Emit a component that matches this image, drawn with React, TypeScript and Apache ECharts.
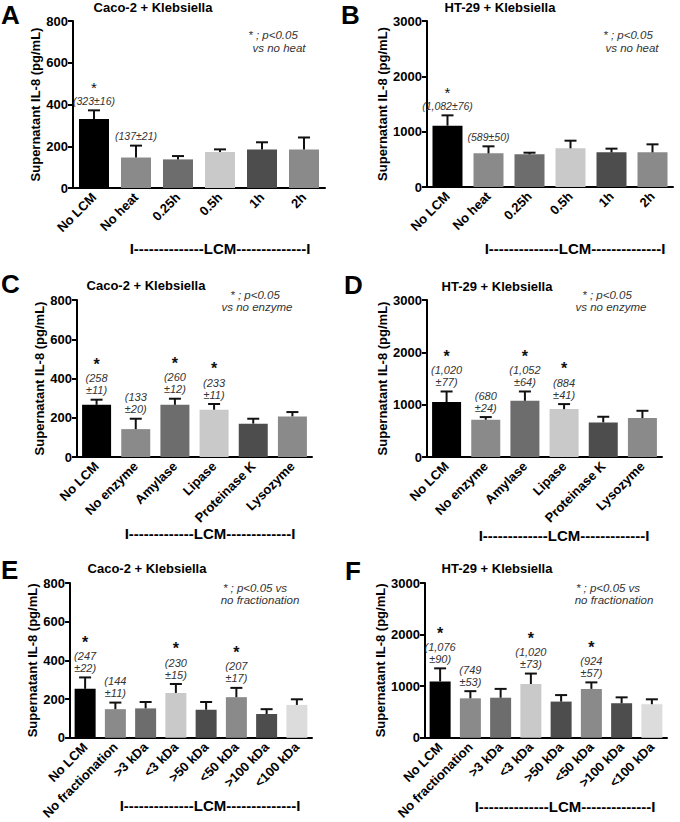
import React, { useEffect, useRef } from "react";
import * as echarts from "echarts";

const FONT = "'Liberation Sans', Arial, Helvetica, sans-serif";

// ---------- Data ----------
const catsHeat = ["No LCM", "No heat", "0.25h", "0.5h", "1h", "2h"];
const catsEnzyme = ["No LCM", "No enzyme", "Amylase", "Lipase", "Proteinase K", "Lysozyme"];
const catsFrac = ["No LCM", "No fractionation", ">3 kDa", "<3 kDa", ">50 kDa", "<50 kDa", ">100 kDa", "<100 kDa"];

const meanA = [330, 146, 137, 172, 185, 185];
const errA = [42, 57, 16, 13, 34, 57];
const starA = [1, 0, 0, 0, 0, 0];
const noteA = ["(323±16)", "(137±21)", "", "", "", ""];

const meanB = [1108, 608, 590, 699, 626, 626];
const errB = [187, 127, 30, 138, 67, 145];
const starB = [1, 0, 0, 0, 0, 0];
const noteB = ["(1,082±76)", "(589±50)", "", "", "", ""];

const meanC = [266, 142, 266, 241, 170, 207];
const errC = [26, 53, 31, 29, 25, 22];
const starC = [1, 0, 1, 1, 0, 0];
const noteC = ["(258\n±11)", "(133\n±20)", "(260\n±12)", "(233\n±11)", "", ""];

const meanD = [1049, 712, 1074, 915, 661, 744];
const errD = [203, 51, 178, 96, 108, 139];
const starD = [1, 0, 1, 1, 0, 0];
const noteD = ["(1,020\n±77)", "(680\n±24)", "(1,052\n±64)", "(884\n±41)", "", ""];

const meanE = [253, 148, 152, 232, 145, 210, 123, 170];
const errE = [59, 34, 33, 46, 40, 48, 25, 29];
const starE = [1, 0, 0, 1, 0, 1, 0, 0];
const noteE = ["(247\n±22)", "(144\n±11)", "", "(230\n±15)", "", "(207\n±17)", "", ""];

const meanF = [1093, 765, 777, 1043, 702, 948, 670, 651];
const errF = [253, 139, 171, 202, 126, 126, 114, 95];
const starF = [1, 0, 0, 1, 0, 1, 0, 0];
const noteF = ["(1,076\n±90)", "(749\n±53)", "", "(1,020\n±73)", "", "(924\n±57)", "", ""];

const colors6 = ["#000000", "#8a8a8a", "#6d6d6d", "#c9c9c9", "#4d4d4d", "#8a8a8a"];
const colors8 = ["#000000", "#8a8a8a", "#6d6d6d", "#c9c9c9", "#4d4d4d", "#8a8a8a", "#4d4d4d", "#dcdcdc"];

const titleCaco = "Caco-2 + Klebsiella";
const titleHT = "HT-29 + Klebsiella";
const yName = "Supernatant IL-8 (pg/mL)";
const lcmLong = "I" + "-".repeat(14) + "LCM" + "-".repeat(14) + "I";
const lcmShort = "I" + "-".repeat(13) + "LCM" + "-".repeat(13) + "I";

type Panel = {
  letter: string;
  title: string;
  cats: string[];
  mean: number[];
  err: number[];
  star: number[];
  note: string[];
  colors: string[];
  max: number;
  interval: number;
  grid: { left: number; top: number; width: number; height: number };
  titlePos: [number, number];
  letterPos: [number, number];
  sig1: [string, number, number];
  sig2: [string, number, number];
  lcm: [string, number, number];
  bigStar: boolean;
  noteSize: number;
  barWidth: number;
};

const panels: Panel[] = [
  {
    letter: "A", title: titleCaco, cats: catsHeat, mean: meanA, err: errA, star: starA, note: noteA,
    colors: colors6, max: 800, interval: 200,
    grid: { left: 73, top: 21, width: 252, height: 167 },
    titlePos: [153, 7], letterPos: [1, 15],
    sig1: ["* ; p<0.05", 273, 35], sig2: ["vs no heat", 279, 48],
    lcm: [lcmLong, 220, 248], bigStar: false, noteSize: 10.5, barWidth: 30,
  },
  {
    letter: "B", title: titleHT, cats: catsHeat, mean: meanB, err: errB, star: starB, note: noteB,
    colors: colors6, max: 3000, interval: 1000,
    grid: { left: 427, top: 21, width: 246, height: 166 },
    titlePos: [500, 7], letterPos: [341, 15],
    sig1: ["* ; p<0.05", 628, 35], sig2: ["vs no heat", 632, 48],
    lcm: [lcmLong, 575, 248], bigStar: false, noteSize: 10.5, barWidth: 30,
  },
  {
    letter: "C", title: titleCaco, cats: catsEnzyme, mean: meanC, err: errC, star: starC, note: noteC,
    colors: colors6, max: 800, interval: 200,
    grid: { left: 77, top: 300, width: 235, height: 157 },
    titlePos: [146, 285], letterPos: [1, 284],
    sig1: ["* ; p<0.05", 255, 295], sig2: ["vs no enzyme", 257, 307],
    lcm: [lcmShort, 210, 533], bigStar: true, noteSize: 11, barWidth: 29,
  },
  {
    letter: "D", title: titleHT, cats: catsEnzyme, mean: meanD, err: errD, star: starD, note: noteD,
    colors: colors6, max: 3000, interval: 1000,
    grid: { left: 427, top: 300, width: 235, height: 157 },
    titlePos: [497, 286], letterPos: [344, 285],
    sig1: ["* ; p<0.05", 607, 295], sig2: ["vs no enzyme", 611, 307],
    lcm: [lcmShort, 564, 535], bigStar: true, noteSize: 11, barWidth: 29,
  },
  {
    letter: "E", title: titleCaco, cats: catsFrac, mean: meanE, err: errE, star: starE, note: noteE,
    colors: colors8, max: 800, interval: 200,
    grid: { left: 70, top: 583, width: 242, height: 158 },
    titlePos: [147, 568], letterPos: [1, 570],
    sig1: ["* ; p<0.05 vs", 255, 588], sig2: ["no fractionation", 260, 600],
    lcm: [lcmLong, 210, 805], bigStar: true, noteSize: 11, barWidth: 21,
  },
  {
    letter: "F", title: titleHT, cats: catsFrac, mean: meanF, err: errF, star: starF, note: noteF,
    colors: colors8, max: 3000, interval: 1000,
    grid: { left: 425, top: 583, width: 242, height: 158 },
    titlePos: [497, 568], letterPos: [345, 571],
    sig1: ["* ; p<0.05 vs", 608, 588], sig2: ["no fractionation", 614, 600],
    lcm: [lcmLong, 565, 806], bigStar: true, noteSize: 11, barWidth: 21,
  },
];

function txt(text: string, x: number, y: number, font: string, fill = "#000", align = "center", lineHeight?: number) {
  const style: any = {
    text,
    font,
    fill,
    align,
    verticalAlign: "middle",
    textAlign: align,
    textVerticalAlign: "middle",
  };
  if (lineHeight) style.lineHeight = lineHeight;
  return { type: "text", x, y, silent: true, style };
}

function buildOption() {
  const grid: any[] = [];
  const xAxis: any[] = [];
  const yAxis: any[] = [];
  const series: any[] = [];
  const graphic: any[] = [];

  panels.forEach((p, i) => {
    grid.push({ ...p.grid, containLabel: false });
    xAxis.push({
      type: "category",
      gridIndex: i,
      data: p.cats,
      axisLine: { lineStyle: { color: "#000", width: 2 } },
      axisTick: { alignWithLabel: true, length: 5, lineStyle: { color: "#000", width: 2 } },
      axisLabel: {
        interval: 0,
        rotate: 45,
        margin: 7,
        color: "#000",
        fontFamily: FONT,
        fontWeight: "bold",
        fontSize: 13,
      },
      splitLine: { show: false },
    });
    yAxis.push({
      type: "value",
      gridIndex: i,
      min: 0,
      max: p.max,
      interval: p.interval,
      name: yName,
      nameLocation: "middle",
      nameGap: 29,
      nameTextStyle: { color: "#000", fontFamily: FONT, fontWeight: "bold", fontSize: 13 },
      axisLine: { show: true, lineStyle: { color: "#000", width: 2 } },
      axisTick: { show: true, length: 5, lineStyle: { color: "#000", width: 2 } },
      axisLabel: {
        color: "#000",
        fontFamily: FONT,
        fontWeight: "bold",
        fontSize: 13,
        margin: 5,
        formatter: (v: number) => String(v),
      },
      splitLine: { show: false },
    });
    series.push({
      type: "bar",
      xAxisIndex: i,
      yAxisIndex: i,
      barWidth: p.barWidth,
      data: p.mean.map((v, j) => ({ value: v, itemStyle: { color: p.colors[j] } })),
      silent: true,
    });
    const starFont = p.bigStar ? `bold 16px ${FONT}` : `15px ${FONT}`;
    const noteFont = `italic ${p.noteSize}px ${FONT}`;
    series.push({
      type: "custom",
      xAxisIndex: i,
      yAxisIndex: i,
      z: 5,
      silent: true,
      data: p.mean.map((v, j) => [j, v + p.err[j]]),
      encode: { x: 0, y: 1 },
      renderItem: (params: any, api: any) => {
        const j = params.dataIndex;
        const top = api.coord([j, p.mean[j]]);
        const cap = api.coord([j, p.mean[j] + p.err[j]]);
        const children: any[] = [
          { type: "line", shape: { x1: top[0], y1: top[1], x2: cap[0], y2: cap[1] }, style: { stroke: "#111", lineWidth: 2 } },
          { type: "line", shape: { x1: cap[0] - 6, y1: cap[1], x2: cap[0] + 6, y2: cap[1] }, style: { stroke: "#111", lineWidth: 2 } },
        ];
        const lines = p.note[j] ? p.note[j].split("\n") : [];
        lines.forEach((t, k) => {
          const y = cap[1] - 9.5 - 12 * (lines.length - 1 - k);
          children.push(txt(t, cap[0], y, noteFont, "#333", "center", 11));
        });
        if (p.star[j]) {
          const topLine = lines.length ? cap[1] - 9.5 - 12 * (lines.length - 1) : cap[1] - 9.5;
          const sy = p.bigStar ? topLine - 13.7 : topLine - 13;
          children.push(txt("*", cap[0], sy, starFont, "#111", "center", 10));
        }
        return { type: "group", children };
      },
    });

    graphic.push(txt(p.title, p.titlePos[0], p.titlePos[1], `bold 13px ${FONT}`));
    graphic.push(txt(p.letter, p.letterPos[0], p.letterPos[1], `bold 26px ${FONT}`, "#000", "left"));
    graphic.push(txt(p.sig1[0], p.sig1[1], p.sig1[2], `italic 11.5px ${FONT}`, "#333"));
    graphic.push(txt(p.sig2[0], p.sig2[1], p.sig2[2], `italic 11.5px ${FONT}`, "#333"));
    graphic.push(txt(p.lcm[0], p.lcm[1], p.lcm[2], `bold 15px ${FONT}`));
  });

  return {
    animation: false,
    backgroundColor: "#ffffff",
    grid,
    xAxis,
    yAxis,
    series,
    graphic: { elements: graphic },
  };
}

export default function App() {
  const ref = useRef<HTMLDivElement>(null);
  useEffect(() => {
    if (!ref.current) return;
    const chart = echarts.init(ref.current, undefined, { renderer: "svg" });
    chart.setOption(buildOption() as any);
    return () => chart.dispose();
  }, []);
  return (
    <div
      ref={ref}
      style={{ position: "absolute", left: 0, top: 0, width: 680, height: 822, background: "#fff" }}
    />
  );
}
